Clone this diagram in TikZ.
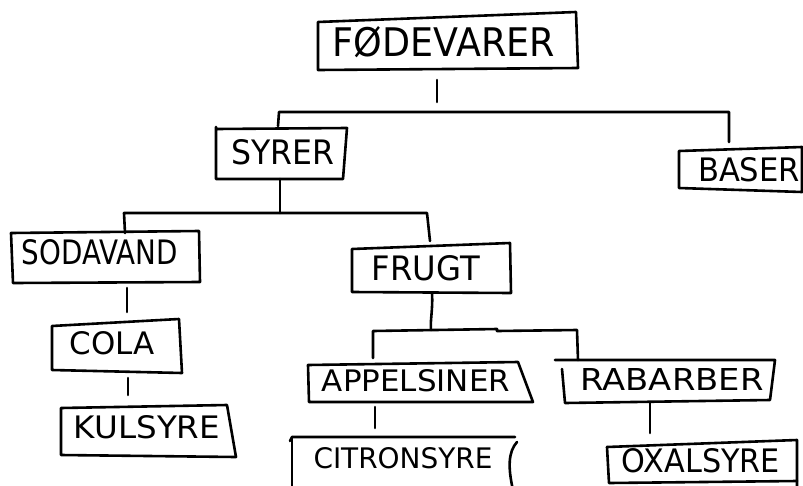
\documentclass[tikz,border=0pt]{standalone}
\usepackage{fontspec}
\setmainfont{DejaVu Sans}
\usepackage{graphicx}
% Canvas units: 1pt per unit, y grows downwards
\tikzset{
  x=1pt, y=-1pt,
  ink/.style={line width=2.6pt, line join=round, line cap=round},
  word/.style={inner sep=0pt, anchor=center},
}
% Scale a label to a given width and cap height
\newcommand{\sized}[3]{\resizebox{#1pt}{#2pt}{#3}}

\begin{document}
\begin{tikzpicture}
\useasboundingbox[fill=white] (0,0) rectangle (803,485);

% ---- labels ----
\node[word] (fodevarer) at (444,42)  {\sized{222}{30}{FØDEVARER}};
\node[word] (syrer)     at (283,152) {\sized{103}{25}{SYRER}};
\node[word] (baser)     at (749,170) {\sized{102}{24}{BASER}};
\node[word] (sodavand)  at (100,252) {\sized{156}{25}{SODAVAND}};
\node[word] (frugt)     at (426,268) {\sized{108}{25}{FRUGT}};
\node[word] (cola)      at (112,343) {\sized{85}{23}{COLA}};
\node[word] (kulsyre)   at (147,427) {\sized{146}{23}{KULSYRE}};
\node[word] (appelsiner) at (416,381) {\sized{188}{22}{APPELSINER}};
\node[word] (rabarber)  at (672,379) {\sized{183}{22}{RABARBER}};
\node[word] (citronsyre) at (403,458) {\sized{179}{21}{CITRONSYRE}};
\node[word] (oxalsyre)  at (701,461) {\sized{158}{24}{OXALSYRE}};

% ---- hand-drawn frames ----
\draw[ink] (318,22) -- (576,12) -- (578,68) -- (318,70) -- cycle;
\draw[ink] (216,127) -- (216,179) -- (343,179) -- (347,128) -- (216,129);
\draw[ink] (679,151) -- (802,147) -- (802,192) -- (679,188) -- cycle;
\draw[ink] (11,233) -- (199,231) -- (200,282) -- (13,283) -- cycle;
\draw[ink] (352,249) -- (510,243) -- (511,293) -- (352,292) -- cycle;
\draw[ink] (52,326) -- (179,319) -- (182,373) -- (52,370) -- cycle;
\draw[ink] (61,408) -- (227,405) -- (236,457) -- (61,455) -- cycle;
\draw[ink] (308,365) -- (518,362) -- (533,402) -- (309,402) -- cycle;
\draw[ink] (555,360) -- (775,360) -- (770,400) -- (565,403) -- (562,369);
\draw[ink] (290,441) -- (292,437) -- (515,437);
\draw[ink] (292,437) -- (292,490);
\draw[ink] (517,442) .. controls (508,452) and (508,468) .. (513,490);
\draw[ink] (607,447) -- (797,440) -- (797,490);
\draw[ink] (607,447) -- (609,483) -- (797,481);

% ---- attachment points ----
\coordinate (fodevarer-s) at (437,80);
\coordinate (fodevarer-j) at (437,102);
\coordinate (top-l) at (279,112);
\coordinate (top-r) at (729,112);
\coordinate (syrer-n) at (278,126);
\coordinate (baser-n) at (729,142);

\coordinate (syrer-s) at (280,179);
\coordinate (syrer-j) at (280,213);
\coordinate (mid-l) at (124,213);
\coordinate (mid-r) at (427,213);
\coordinate (sodavand-n) at (125,233);
\coordinate (frugt-n) at (430,241);

\coordinate (sodavand-s) at (127,288);
\coordinate (cola-n) at (127,312);
\coordinate (cola-s) at (128,378);
\coordinate (kulsyre-n) at (128,395);

\coordinate (frugt-s) at (432,293);
\coordinate (frugt-j) at (431,330);
\coordinate (low-l) at (373,331);
\coordinate (low-r) at (577,330);
\coordinate (appelsiner-n) at (373,358);
\coordinate (rabarber-n) at (578,360);

\coordinate (appelsiner-s) at (375,407);
\coordinate (citronsyre-n) at (375,428);
\coordinate (rabarber-s) at (650,403);
\coordinate (oxalsyre-n) at (650,433);

% ---- connectors ----
\draw[ink] (fodevarer-s) -- (fodevarer-j);
\draw[ink] (syrer-n) -- (top-l) -- (top-r) -- (baser-n);

\draw[ink] (syrer-s) -- (syrer-j);
\draw[ink] (sodavand-n) -- (mid-l) -- (mid-r) -- (frugt-n);

\draw[ink] (sodavand-s) -- (cola-n);
\draw[ink] (cola-s) -- (kulsyre-n);

\draw[ink] (frugt-s) .. controls (433,310) and (430,320) .. (frugt-j);
\draw[ink] (appelsiner-n) -- (low-l) -- (497,329) -- (497,331) -- (low-r) -- (rabarber-n);

\draw[ink] (appelsiner-s) -- (citronsyre-n);
\draw[ink] (rabarber-s) -- (oxalsyre-n);
\end{tikzpicture}
\end{document}
